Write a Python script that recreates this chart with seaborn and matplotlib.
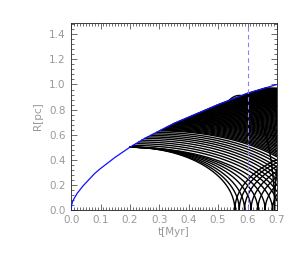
import numpy as np
import pandas as pd
import seaborn as sns
import matplotlib.pyplot as plt
from matplotlib.ticker import MultipleLocator, AutoMinorLocator, FormatStrFormatter

# shell radius (blue curve)
shell_t = [0.0, 0.002, 0.005, 0.01, 0.02, 0.03, 0.04, 0.06, 0.08, 0.10, 0.125, 0.15, 0.175,
           0.20, 0.25, 0.30, 0.35, 0.40, 0.45, 0.50, 0.55, 0.60, 0.65, 0.70]
shell_R = [0.0, 0.04, 0.065, 0.09, 0.13, 0.16, 0.19, 0.24, 0.29, 0.33, 0.375, 0.42, 0.46,
           0.50, 0.57, 0.63, 0.69, 0.74, 0.79, 0.84, 0.885, 0.93, 0.965, 1.0]

# stars released from the shell: release time and time they cross R=0
launch_t = [0.200, 0.200, 0.200, 0.200, 0.200, 0.200, 0.200,
            0.210, 0.220, 0.230, 0.240, 0.250, 0.260, 0.270, 0.280, 0.290,
            0.300, 0.305, 0.310, 0.315, 0.320, 0.325, 0.330, 0.335, 0.340, 0.345, 0.350,
            0.355, 0.360, 0.365, 0.370, 0.375, 0.380, 0.385, 0.390, 0.395, 0.400,
            0.405, 0.410, 0.415, 0.420, 0.425, 0.430, 0.435, 0.440, 0.445, 0.450, 0.455, 0.460,
            0.465, 0.470, 0.475, 0.480, 0.485, 0.490, 0.495, 0.500, 0.505, 0.510, 0.515, 0.520,
            0.525, 0.530, 0.535, 0.540, 0.545, 0.550, 0.555, 0.560, 0.565, 0.570, 0.575, 0.580,
            0.585, 0.590, 0.595, 0.600, 0.605, 0.610, 0.615, 0.620, 0.625, 0.630, 0.635, 0.640,
            0.645, 0.650, 0.655, 0.660]
land_t = [0.557, 0.572, 0.590, 0.612, 0.635, 0.660, 0.685,
          0.705, 0.720, 0.735, 0.752, 0.765, 0.782, 0.795, 0.812, 0.825,
          0.840, 0.848, 0.856, 0.864, 0.872, 0.881, 0.890, 0.898, 0.905, 0.914, 0.922,
          0.931, 0.940, 0.948, 0.955, 0.964, 0.972, 0.981, 0.990, 0.998, 1.005,
          1.012, 1.020, 1.031, 1.040, 1.050, 1.060, 1.071, 1.080, 1.090, 1.100, 1.112, 1.120,
          1.130, 1.140, 1.150, 1.160, 1.170, 1.180, 1.190, 1.200, 1.210, 1.220, 1.230, 1.240,
          1.250, 1.260, 1.270, 1.280, 1.290, 1.300, 1.310, 1.320, 1.330, 1.340, 1.350, 1.360,
          1.370, 1.380, 1.390, 1.400, 1.410, 1.420, 1.430, 1.440, 1.450, 1.460, 1.470, 1.480,
          1.490, 1.500, 1.510, 1.520]

# one star that overshoots the shell (bump near 0.57 Myr)
peak_t = [0.572]
peak_R = [0.913]
half_w = [0.120]

t_mark = 0.6

grid = np.linspace(0.0, 0.7, 2801)
frames = []
for k, (t0, tz) in enumerate(zip(launch_t, land_t)):
    R0 = np.interp(t0, shell_t, shell_R)
    w = tz - t0
    t = grid[grid >= t0]
    u = np.mod(t - t0 + w, 2 * w) - w
    R = R0 * np.sqrt(np.clip(1 - (u / w) ** 2, 0, None))
    frames.append(pd.DataFrame({"t": t, "R": R, "traj": k}))

for j, (tc, A, w) in enumerate(zip(peak_t, peak_R, half_w)):
    t = grid[grid >= tc - w]
    u = np.mod(t - tc + w, 2 * w) - w
    R = A * np.sqrt(np.clip(1 - (u / w) ** 2, 0, None))
    above = (R >= np.interp(t, shell_t, shell_R)) & (t <= tc)
    i0 = np.argmax(above)
    frames.append(pd.DataFrame({"t": t[i0:], "R": R[i0:], "traj": 1000 + j}))

df = pd.concat(frames, ignore_index=True)

sns.set_theme(style="ticks")
plt.rcParams['font.family'] = ['DejaVu Sans']
plt.rcParams['xtick.direction'] = 'in'
plt.rcParams['ytick.direction'] = 'in'

fig = plt.figure(figsize=(3.0, 2.56), dpi=100)
ax = fig.add_axes([0.237, 0.18, 0.686, 0.73])

sns.lineplot(data=df, x="t", y="R", units="traj", estimator=None, sort=False,
             color="black", lw=1.0, legend=False, ax=ax)
sns.lineplot(x=shell_t, y=shell_R, color="#1010ff", lw=0.9, ax=ax, zorder=3)
ax.axvline(t_mark, color="#8080ff", lw=0.8, ls=(0, (4, 3)), zorder=4)

ax.set_xlim(0, 0.7)
ax.set_ylim(0, 1.49)
ax.xaxis.set_major_locator(MultipleLocator(0.1))
ax.xaxis.set_minor_locator(AutoMinorLocator(10))
ax.yaxis.set_major_locator(MultipleLocator(0.2))
ax.yaxis.set_minor_locator(AutoMinorLocator(5))
ax.xaxis.set_major_formatter(FormatStrFormatter('%.1f'))
ax.yaxis.set_major_formatter(FormatStrFormatter('%.1f'))
ax.tick_params(which="both", top=True, right=True, color="#333333", width=0.5,
               labelsize=7.5, labelcolor="#999999")
ax.tick_params(which="major", length=4, pad=4)
ax.tick_params(which="minor", length=2)
for s in ax.spines.values():
    s.set_linewidth(0.6)
    s.set_color("#222222")

ax.set_xlabel("t[Myr]", fontsize=7.5, color="#999999", labelpad=1)
ax.set_ylabel("R[pc]", fontsize=7.5, color="#999999", labelpad=4)

fig.savefig("out.png", dpi=100)
